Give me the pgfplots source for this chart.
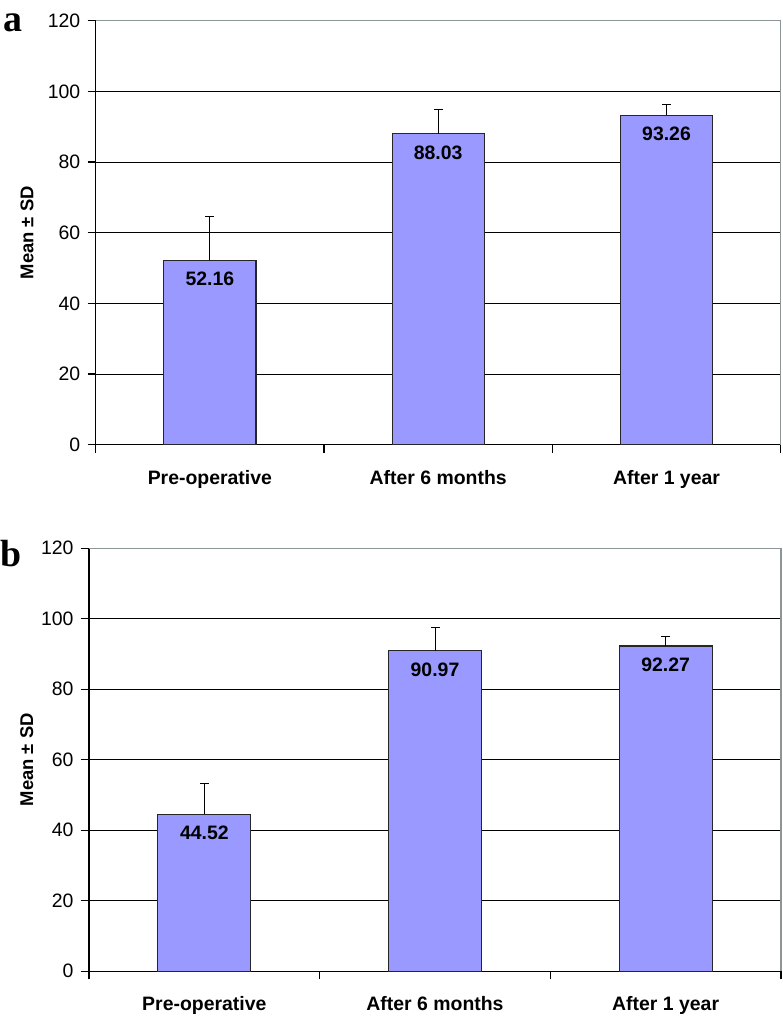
\documentclass[border=0pt]{standalone}
\usepackage{pgfplots}
\pgfplotsset{compat=1.18}
\usepackage{fontspec}
\setmainfont{Liberation Sans}
\newfontfamily\serifbold{Liberation Serif}
\definecolor{barfill}{HTML}{9999FF}
\definecolor{bordergray}{HTML}{8C9696}
\newcommand\lblfont{\fontsize{19.5}{21}\selectfont}
\tikzset{ylab/.style={anchor=east, xshift=-12bp, font=\lblfont}}

\pgfplotsset{
 mybars/.style={
  scale only axis,
  clip=false,
  xmin=0.5, xmax=3.5, ymin=0, ymax=120,
  ytick={0,20,...,120},
  yticklabels={},
  xtick={1,2,3},
  xticklabels={Pre-operative, After 6 months, After 1 year},
  minor xtick={0.5,1.5,2.5,3.5},
  axis x line*=bottom, axis y line*=left,
  tick align=outside,
  major tick length=8bp, minor tick length=8bp,
  major x tick style={draw=none},
  minor x tick style={black, line width=1.1bp},
  major y tick style={black, line width=1.1bp},
  ymajorgrids, grid style={black, line width=1bp},
  axis line style={black, line width=1.1bp, -},
  /pgf/number format/assume math mode=true,
  xticklabel style={font=\lblfont\bfseries, yshift=-14bp},
  nodes near coords={\pgfmathprintnumber[fixed,fixed zerofill,precision=2]{\pgfplotspointmeta}},
  every node near coord/.append style={anchor=north, yshift=-8bp, font=\lblfont\bfseries, text=black},
 },
 mybar/.style={ybar, bar width=0.404, fill=barfill, draw=black!85, line width=1.1bp,
  error bars/.cd, y dir=plus, y explicit,
  error bar style={black, line width=1bp},
  error mark options={rotate=90, black, line width=1bp, mark size=4.5bp}},
}

\begin{document}
\begin{tikzpicture}
\useasboundingbox (0,0) rectangle (783bp,1017bp);

\begin{axis}[mybars, at={(95.7bp,572.3bp)}, anchor=south west,
  width=685bp, height=424bp,
  ylabel={Mean ± SD},
  every axis y label/.style={at={(axis description cs:-0.1003,0.5)}, rotate=90, anchor=center, font=\fontsize{18.5}{20}\selectfont\bfseries}]
\addplot[mybar] coordinates {(1,52.16) +- (0,12.3) (2,88.03) +- (0,6.7) (3,93.26) +- (0,3.1)};
\draw[bordergray, line width=1.1bp] (rel axis cs:0,1) -- (rel axis cs:1,1) -- (rel axis cs:1,0);
\path (axis cs:0.5,0) node[ylab]{0} (axis cs:0.5,20) node[ylab]{20}
  (axis cs:0.5,40) node[ylab]{40} (axis cs:0.5,60) node[ylab]{60}
  (axis cs:0.5,80) node[ylab]{80} (axis cs:0.5,100) node[ylab]{100}
  (axis cs:0.5,120) node[ylab]{120};
\end{axis}

\begin{axis}[mybars, at={(89bp,45.7bp)}, anchor=south west,
  width=692bp, height=423bp,
  ylabel={Mean ± SD},
  every axis y label/.style={at={(axis description cs:-0.09,0.5)}, rotate=90, anchor=center, font=\fontsize{18.5}{20}\selectfont\bfseries}]
\addplot[mybar] coordinates {(1,44.52) +- (0,8.8) (2,90.97) +- (0,6.7) (3,92.27) +- (0,2.8)};
\draw[bordergray, line width=1.1bp] (rel axis cs:0,1) -- (rel axis cs:1,1) -- (rel axis cs:1,0);
\path (axis cs:0.5,0) node[ylab]{0} (axis cs:0.5,20) node[ylab]{20}
  (axis cs:0.5,40) node[ylab]{40} (axis cs:0.5,60) node[ylab]{60}
  (axis cs:0.5,80) node[ylab]{80} (axis cs:0.5,100) node[ylab]{100}
  (axis cs:0.5,120) node[ylab]{120};
\end{axis}

\node[anchor=base, font=\fontsize{38}{40}\selectfont\serifbold\bfseries] at (13bp,985bp) {a};
\node[anchor=base, font=\fontsize{38}{40}\selectfont\serifbold\bfseries] at (11bp,450.3bp) {b};
\end{tikzpicture}
\end{document}
